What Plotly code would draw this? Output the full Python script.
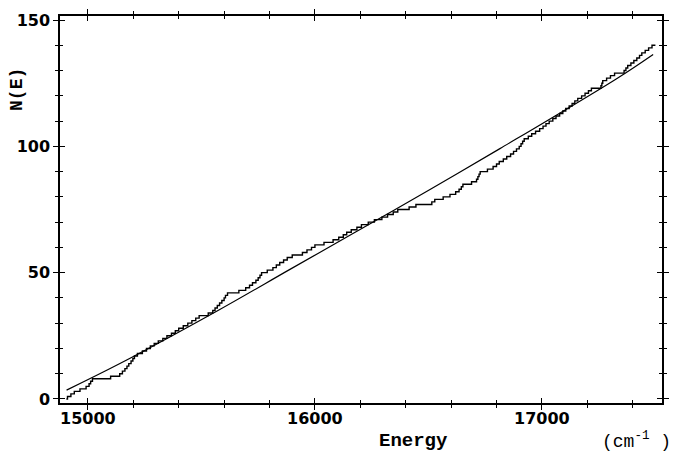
import plotly.graph_objects as go

# staircase N(E): energy (cm-1) at which each new level is counted
start_energy = 14905
end_energy = 17500
step_energies = [
    14910, 14925, 14940, 14965, 14992, 15005, 15012, 15020, 15100, 15140,
    15152, 15163, 15172, 15180, 15190, 15198, 15205, 15218, 15240, 15258,
    15275, 15292, 15310, 15330, 15348, 15368, 15385, 15400, 15420, 15440,
    15458, 15475, 15490, 15530, 15550, 15560, 15570, 15580, 15590, 15600,
    15606, 15615, 15665, 15695, 15712, 15725, 15740, 15750, 15758, 15765,
    15790, 15815, 15830, 15845, 15862, 15878, 15900, 15945, 15965, 15985,
    16000, 16040, 16080, 16105, 16125, 16140, 16160, 16185, 16205, 16235,
    16262, 16295, 16320, 16345, 16365, 16415, 16445, 16515, 16528, 16565,
    16595, 16620, 16635, 16645, 16652, 16690, 16712, 16718, 16723, 16728,
    16760, 16785, 16800, 16812, 16830, 16845, 16862, 16875, 16888, 16900,
    16908, 16915, 16922, 16940, 16955, 16972, 16990, 17005, 17018, 17032,
    17048, 17062, 17078, 17092, 17105, 17120, 17133, 17145, 17158, 17175,
    17190, 17205, 17218, 17260, 17264, 17268, 17285, 17302, 17320, 17362,
    17370, 17378, 17392, 17405, 17418, 17430, 17440, 17455, 17470, 17485,
]

# smooth fitted curve read at a few energies
fit_energy = [14906, 15141, 15573, 15890, 16154, 16507, 16815, 17329, 17490]
fit_n = [3.5, 14.0, 35.0, 51.3, 64.8, 82.9, 99.1, 126.8, 136.4]

x_ticks = [15000, 16000, 17000]
x_labels = ["15000", "16000", "17000"]
y_ticks = [0, 50, 100, 150]

stair_x = [start_energy] + step_energies + [end_energy]
stair_y = list(range(len(step_energies) + 1)) + [len(step_energies)]

fig = go.Figure()
fig.add_trace(go.Scatter(x=stair_x, y=stair_y, mode="lines", line_shape="hv",
                         line=dict(color="black", width=1.4), showlegend=False))
fig.add_trace(go.Scatter(x=fit_energy, y=fit_n, mode="lines", line_shape="spline",
                         line=dict(color="black", width=1.2), showlegend=False))

xr = [14877, 17529]
yr = [-1.6, 151.6]
tickfont = dict(family="DejaVu Sans", size=16, color="black", weight="bold")

fig.update_layout(
    width=673, height=452,
    margin=dict(l=60, r=11, t=16, b=49),
    plot_bgcolor="white", paper_bgcolor="white",
    xaxis=dict(range=xr, tickvals=x_ticks, ticktext=x_labels, showgrid=False, zeroline=False,
               showline=True, linecolor="black", linewidth=1.5, mirror="ticks", automargin=False,
               ticks="outside", ticklen=5, tickcolor="black", tickwidth=1, ticklabelstandoff=-5,
               minor=dict(dtick=200, tick0=15000, ticks="outside", ticklen=3, tickcolor="black", showgrid=False),
               tickfont=tickfont),
    yaxis=dict(range=yr, tickvals=y_ticks, showgrid=False, zeroline=False,
               showline=True, linecolor="black", linewidth=1.5, mirror="ticks", automargin=False,
               ticks="outside", ticklen=5, tickcolor="black", tickwidth=1,
               minor=dict(dtick=10, tick0=0, ticks="outside", ticklen=3, tickcolor="black", showgrid=False),
               tickfont=tickfont),
    xaxis2=dict(range=xr, overlaying="x", matches="x", tickvals=x_ticks, showticklabels=False,
                showgrid=False, zeroline=False, mirror="ticks", ticks="inside", ticklen=5, automargin=False,
                tickcolor="black", minor=dict(dtick=200, tick0=15000, ticks="inside", ticklen=3, tickcolor="black")),
    yaxis2=dict(range=yr, overlaying="y", matches="y", tickvals=y_ticks, showticklabels=False,
                showgrid=False, zeroline=False, mirror="ticks", ticks="inside", ticklen=5, automargin=False,
                tickcolor="black", minor=dict(dtick=10, tick0=0, ticks="inside", ticklen=3, tickcolor="black")),
)

# empty trace so the inner-tick axes are drawn
fig.add_trace(go.Scatter(x=[None], y=[None], xaxis="x2", yaxis="y2", showlegend=False))

fig.add_annotation(text="Energy", xref="paper", yref="paper", x=0.588, y=-0.098,
                   xanchor="center", yanchor="middle", showarrow=False,
                   font=dict(family="Liberation Mono", size=19, color="black", weight="bold"))
fig.add_annotation(text="(cm<sup>-1</sup> )", xref="paper", yref="paper", x=0.957, y=-0.098,
                   xanchor="center", yanchor="middle", showarrow=False,
                   font=dict(family="Liberation Mono", size=18, color="black"))
fig.add_annotation(text="N(E)", xref="paper", yref="paper", x=-0.0714, y=0.809, textangle=-90,
                   xanchor="center", yanchor="middle", showarrow=False,
                   font=dict(family="Liberation Mono", size=18, color="black", weight="bold"))

fig.write_html("out.html", config={"displayModeBar": False},
               post_script="document.body.style.margin='0';")
